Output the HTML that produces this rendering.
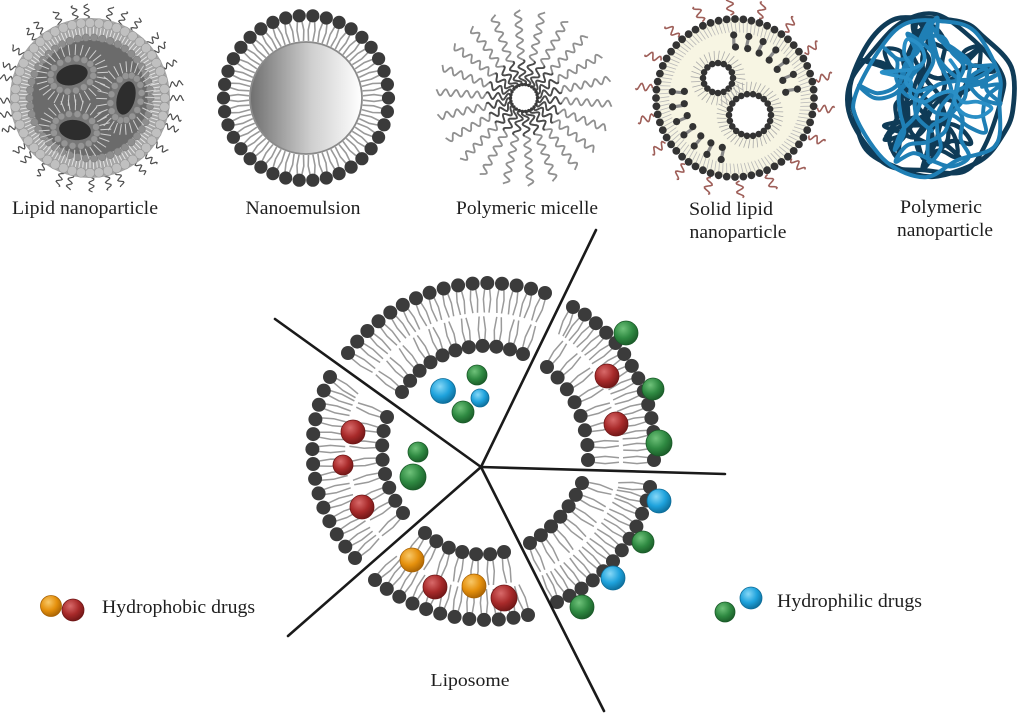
<!DOCTYPE html>
<html><head><meta charset="utf-8">
<style>
html,body{margin:0;padding:0;background:#fff;}
svg{display:block;}
text{font-family:"Liberation Serif",serif;fill:#1e1e1e;font-size:19px;}
</style></head>
<body>
<svg id="s" xmlns="http://www.w3.org/2000/svg" width="1024" height="715" viewBox="0 0 1024 715">
<defs>
<linearGradient id="neg" x1="0" y1="0" x2="1" y2="0">
<stop offset="0" stop-color="#6f6f6f"/><stop offset="0.55" stop-color="#cfcfcf"/><stop offset="1" stop-color="#ffffff"/>
</linearGradient>
<radialGradient id="gG" cx="0.38" cy="0.32" r="0.72"><stop offset="0" stop-color="#6fc27a"/><stop offset="0.55" stop-color="#2f8a42"/><stop offset="1" stop-color="#1a5a28"/></radialGradient>
<radialGradient id="gR" cx="0.38" cy="0.32" r="0.72"><stop offset="0" stop-color="#d86a6a"/><stop offset="0.55" stop-color="#a82a2a"/><stop offset="1" stop-color="#6e1616"/></radialGradient>
<radialGradient id="gB" cx="0.38" cy="0.32" r="0.72"><stop offset="0" stop-color="#86d8f7"/><stop offset="0.55" stop-color="#1ea2dc"/><stop offset="1" stop-color="#0d6c98"/></radialGradient>
<radialGradient id="gO" cx="0.38" cy="0.32" r="0.72"><stop offset="0" stop-color="#f8c868"/><stop offset="0.55" stop-color="#e5900c"/><stop offset="1" stop-color="#a76204"/></radialGradient>
</defs>
<g id="top"></g>
<g id="lipo"></g>
<g id="lines"></g>
<g id="balls"></g>
<text x="85" y="214" text-anchor="middle" textLength="146" lengthAdjust="spacingAndGlyphs">Lipid nanoparticle</text>
<text x="303" y="214" text-anchor="middle" textLength="115" lengthAdjust="spacingAndGlyphs">Nanoemulsion</text>
<text x="527" y="214" text-anchor="middle" textLength="142" lengthAdjust="spacingAndGlyphs">Polymeric micelle</text>
<text x="731" y="215" text-anchor="middle" textLength="84" lengthAdjust="spacingAndGlyphs">Solid lipid</text>
<text x="738" y="238" text-anchor="middle" textLength="97" lengthAdjust="spacingAndGlyphs">nanoparticle</text>
<text x="941" y="213" text-anchor="middle" textLength="82" lengthAdjust="spacingAndGlyphs">Polymeric</text>
<text x="945" y="236" text-anchor="middle" textLength="96" lengthAdjust="spacingAndGlyphs">nanoparticle</text>
<text x="470" y="686" text-anchor="middle" textLength="79" lengthAdjust="spacingAndGlyphs" style="font-size:18px">Liposome</text>
<text x="102" y="613" textLength="153" lengthAdjust="spacingAndGlyphs">Hydrophobic drugs</text>
<text x="777" y="607" textLength="145" lengthAdjust="spacingAndGlyphs">Hydrophilic drugs</text>
</svg>
<script>
(function(){
var NS='http://www.w3.org/2000/svg';
function el(p,tag,a){var e=document.createElementNS(NS,tag);for(var k in a)e.setAttribute(k,a[k]);p.appendChild(e);return e;}
function G(id){return document.getElementById(id);}
var T=G('top'),L=G('lipo'),LN=G('lines'),B=G('balls');
var PI2=Math.PI*2;
function f(x){return x.toFixed(1);}
function wave(cx,cy,ang,r1,r2,A,P,ph){var ux=Math.cos(ang),uy=Math.sin(ang),vx=-uy,vy=ux,d='';for(var t=r1;t<=r2+0.01;t+=1){var o=A*Math.sin(PI2*(t-r1)/P+(ph||0));var x=cx+t*ux+o*vx,y=cy+t*uy+o*vy;d+=(d?'L':'M')+f(x)+','+f(y);}return d;}
function line(p,x1,y1,x2,y2,c,w){return el(p,'line',{x1:f(x1),y1:f(y1),x2:f(x2),y2:f(y2),stroke:c,'stroke-width':w,'stroke-linecap':'round'});}
function circ(p,x,y,r,fill,a){var o={cx:f(x),cy:f(y),r:r,fill:fill};if(a)for(var k in a)o[k]=a[k];return el(p,'circle',o);}

/* ---------- Lipid nanoparticle ---------- */
var lx=90,ly=98;
for(var i=0;i<32;i++){var a=i/32*PI2+0.04*Math.sin(i*2.3);el(T,'path',{d:wave(lx,ly,a,78,94,2.6,7,i),fill:'none',stroke:'#4d4d4d','stroke-width':1.2});}
circ(T,lx,ly,80,'#a6a6a6');
for(i=0;i<120;i++){a=i/120*PI2;line(T,lx+62*Math.cos(a),ly+62*Math.sin(a),lx+71*Math.cos(a),ly+71*Math.sin(a),'#e4e4e4',1);}
circ(T,lx,ly,58,'#6b6b6b');
for(i=0;i<46;i++){a=i/46*PI2;circ(T,lx+60.5*Math.cos(a),ly+60.5*Math.sin(a),3.7,'#8e8e8e',{stroke:'#777','stroke-width':0.5});}
for(i=0;i<52;i++){a=i/52*PI2;circ(T,lx+75*Math.cos(a),ly+75*Math.sin(a),4.8,'#c0c0c0',{stroke:'#959595','stroke-width':0.6});}
function mic(cx,cy,rx,ry,rot){var c=Math.cos(rot),s=Math.sin(rot);function P(t,ax,ay){var x=ax*Math.cos(t),y=ay*Math.sin(t);return [cx+x*c-y*s,cy+x*s+y*c];}
 for(var k=0;k<30;k++){var t=k/30*PI2;var p1=P(t,rx+10,ry+10),p2=P(t,rx+20,ry+20);line(T,p1[0],p1[1],p2[0],p2[1],'#cfcfcf',1);}
 el(T,'ellipse',{cx:cx,cy:cy,rx:rx+7,ry:ry+7,fill:'#777',transform:'rotate('+(rot*180/Math.PI)+' '+cx+' '+cy+')'});
 for(k=0;k<16;k++){t=k/16*PI2;var p=P(t,rx+6,ry+6);circ(T,p[0],p[1],3.4,'#959595',{stroke:'#7a7a7a','stroke-width':0.5});}
 el(T,'ellipse',{cx:cx,cy:cy,rx:rx,ry:ry,fill:'#2d2d2d',transform:'rotate('+(rot*180/Math.PI)+' '+cx+' '+cy+')'});
}
mic(72,75,16,10,-0.25);mic(126,98,9,17,0.25);mic(75,130,16,10,0.15);

/* ---------- Nanoemulsion ---------- */
var nx=306,ny=98;
for(i=0;i<38;i++){a=i/38*PI2;var ca=Math.cos(a),sa=Math.sin(a),px=-sa,py=ca;
 for(var j=-1;j<=1;j+=2){var o=j*2.2;var k1=(j>0?1.2:-1.2);
  el(T,'polyline',{points:f(nx+77*ca+o*px)+','+f(ny+77*sa+o*py)+' '+f(nx+68*ca+(o+k1)*px)+','+f(ny+68*sa+(o+k1)*py)+' '+f(nx+57*ca+o*px)+','+f(ny+57*sa+o*py),fill:'none',stroke:'#999','stroke-width':1.6});}
}
circ(T,nx,ny,56,'url(#neg)',{stroke:'#8a8a8a','stroke-width':1.8});
for(i=0;i<38;i++){a=i/38*PI2;circ(T,nx+82.5*Math.cos(a),ny+82.5*Math.sin(a),6.6,'#3a3a3a');}

/* ---------- Polymeric micelle ---------- */
var mx=524,my=98;
for(i=0;i<22;i++){a=i/22*PI2+0.07;el(T,'path',{d:wave(mx,my,a,13,88,3.3,10.5,0),fill:'none',stroke:'#909090','stroke-width':1.8});}
for(i=0;i<22;i++){a=i/22*PI2+0.07;el(T,'path',{d:wave(mx,my,a,13,38,3.3,10.5,0),fill:'none',stroke:'#4a4a4a','stroke-width':1.8});}
circ(T,mx,my,12,'#fff');
for(i=0;i<26;i++){a=i/26*PI2;circ(T,mx+13.5*Math.cos(a),my+13.5*Math.sin(a),1.7,'#3a3a3a');}

/* ---------- Solid lipid nanoparticle ---------- */
var sx=735,sy=98;
for(i=0;i<18;i++){a=i/18*PI2+0.12;el(T,'path',{d:wave(sx,sy,a,83,100,3.4,9,0),fill:'none',stroke:'#9e5e58','stroke-width':1.6});}
circ(T,sx,sy,79,'#f7f5e3');
for(i=0;i<116;i++){a=i/116*PI2;line(T,sx+76*Math.cos(a),sy+76*Math.sin(a),sx+66*Math.cos(a+0.02),sy+66*Math.sin(a+0.02),'#b8b8b8',0.8);}
var holes=[[718,78,12,15,16],[750,115,17,21,22]];
for(i=0;i<26;i++){a=i/26*PI2+0.1;var ok=true;
 for(var h=0;h<2;h++){var hx=holes[h][0],hy=holes[h][1];for(var rr=50;rr<=64;rr+=7){var qx=sx+rr*Math.cos(a),qy=sy+rr*Math.sin(a);if(Math.hypot(qx-hx,qy-hy)<holes[h][3]+16)ok=false;}}
 if(!ok)continue;
 line(T,sx+62*Math.cos(a),sy+62*Math.sin(a),sx+53*Math.cos(a),sy+53*Math.sin(a),'#8a8a8a',3.2);
 circ(T,sx+63*Math.cos(a),sy+63*Math.sin(a),3.6,'#333');
 circ(T,sx+51*Math.cos(a+0.03),sy+51*Math.sin(a+0.03),3.6,'#333');
}
holes.forEach(function(hh){var hx=hh[0],hy=hh[1],r=hh[2],rg=hh[3],n=hh[4];
 for(var k=0;k<n*2;k++){var t=k/(n*2)*PI2;line(T,hx+(rg+3)*Math.cos(t),hy+(rg+3)*Math.sin(t),hx+(rg+12)*Math.cos(t+0.05),hy+(rg+12)*Math.sin(t+0.05),'#aaa',0.8);}
 circ(T,hx,hy,rg,'#fff');
 for(k=0;k<n;k++){t=k/n*PI2;circ(T,hx+rg*Math.cos(t),hy+rg*Math.sin(t),3.3,'#333');}
});
for(i=0;i<60;i++){a=i/60*PI2;circ(T,sx+79*Math.cos(a),sy+79*Math.sin(a),3.9,'#333');}

/* ---------- Polymeric nanoparticle ---------- */
function rng(s){return function(){s|=0;s=s+0x6D2B79F5|0;var t=Math.imul(s^s>>>15,1|s);t=t+Math.imul(t^t>>>7,61|t)^t;return((t^t>>>14)>>>0)/4294967296;};}
var R=rng(5);var qx0=930,qy0=95;
function cr(pts,closed){var n=pts.length,d='M'+f(pts[0][0])+','+f(pts[0][1]);
 var lim=closed?n:n-1;
 for(var k=0;k<lim;k++){var p0,p1=pts[k],p2,p3;
  if(closed){p0=pts[(k-1+n)%n];p2=pts[(k+1)%n];p3=pts[(k+2)%n];}
  else{p0=pts[Math.max(k-1,0)];p2=pts[k+1];p3=pts[Math.min(k+2,n-1)];}
  d+='C'+f(p1[0]+(p2[0]-p0[0])/6)+','+f(p1[1]+(p2[1]-p0[1])/6)+' '+f(p2[0]-(p3[0]-p1[0])/6)+','+f(p2[1]-(p3[1]-p1[1])/6)+' '+f(p2[0])+','+f(p2[1]);}
 return closed?d+'Z':d;}
var DK='#0f3b57',BL='#1f7fb5';
function bigLoop(n,rmin,rmax,col,w){var pts=[];for(var k=0;k<n;k++){var a=k/n*PI2+R()*0.25;var r=rmin+R()*(rmax-rmin);pts.push([qx0+r*Math.cos(a),qy0+r*Math.sin(a)]);}el(T,'path',{d:cr(pts,true),fill:'none',stroke:col,'stroke-width':w});}
function walk(n,col,w,step,maxr,turn){var x=qx0+(R()-0.5)*60,y=qy0+(R()-0.5)*60,ang=R()*PI2,pts=[[x,y]];
 for(var k=0;k<n;k++){ang+=(R()-0.5)*(turn||2.0);var nx2=x+step*Math.cos(ang),ny2=y+step*Math.sin(ang);
  if(Math.hypot(nx2-qx0,ny2-qy0)>maxr){ang=Math.atan2(qy0-y,qx0-x)+(R()-0.5)*1.8;nx2=x+step*Math.cos(ang);ny2=y+step*Math.sin(ang);}
  x=nx2;y=ny2;pts.push([x,y]);}
 el(T,'path',{d:cr(pts,false),fill:'none',stroke:col,'stroke-width':w,'stroke-linecap':'round'});}
bigLoop(14,78,86,DK,4.8);
bigLoop(12,70,84,DK,4.4);
walk(60,DK,4.4,20,78,1.8);
walk(45,DK,4.2,18,76,2.2);
walk(30,DK,4.2,16,70,2.4);
bigLoop(12,68,83,BL,4);
walk(60,BL,4,20,78,1.8);
walk(40,BL,3.9,18,74,2.2);
walk(25,'#2a8fc6',3.8,15,66,2.6);

/* ---------- Liposome ---------- */
function circ3(a,b,c){var ax=a[0],ay=a[1],bx=b[0],by=b[1],cx=c[0],cy=c[1];
 var d=2*(ax*(by-cy)+bx*(cy-ay)+cx*(ay-by));
 var ux=((ax*ax+ay*ay)*(by-cy)+(bx*bx+by*by)*(cy-ay)+(cx*cx+cy*cy)*(ay-by))/d;
 var uy=((ax*ax+ay*ay)*(cx-bx)+(bx*bx+by*by)*(ax-cx)+(cx*cx+cy*cy)*(bx-ax))/d;
 return [ux,uy,Math.hypot(ax-ux,ay-uy)];}
function norm(x){return ((x%PI2)+PI2)%PI2;}
function arcPts(P,spacing){var c=circ3(P[0],P[1],P[2]),ux=c[0],uy=c[1],r=c[2];
 var a1=Math.atan2(P[0][1]-uy,P[0][0]-ux),a2=Math.atan2(P[1][1]-uy,P[1][0]-ux),a3=Math.atan2(P[2][1]-uy,P[2][0]-ux);
 var d13=norm(a3-a1),d12=norm(a2-a1);var sw=d12<d13?d13:d13-PI2;
 var n=Math.max(1,Math.round(Math.abs(sw)*r/spacing));var pts=[];
 for(var k=0;k<=n;k++){var a=a1+sw*k/n;pts.push([ux+r*Math.cos(a),uy+r*Math.sin(a)]);}
 return pts;}
var segs=[
 {o:[[348,353],[487,283],[545,293]],i:[[402,392],[470,347],[523,354]]},
 {o:[[573,307],[633,368],[654,460]],i:[[547,367],[583,423],[588,460]]},
 {o:[[650,487],[622,550],[557,602]],i:[[582,483],[560,517],[530,543]]},
 {o:[[375,580],[455,617],[528,615]],i:[[425,533],[462,552],[504,552]]},
 {o:[[330,377],[313,463],[355,558]],i:[[387,417],[383,463],[403,513]]}
];
segs.forEach(function(sg){
 var O=arcPts(sg.o,14.5),I=arcPts(sg.i,14.5);var Of=arcPts(sg.o,2),If=arcPts(sg.i,2);
 function tails(rowA,fineB){rowA.forEach(function(p){var best=null,bd=1e9;fineB.forEach(function(q){var d=Math.hypot(q[0]-p[0],q[1]-p[1]);if(d<bd){bd=d;best=q;}});
  var dx=(best[0]-p[0])/bd,dy=(best[1]-p[1])/bd,nx2=-dy,ny2=dx;var Lt=bd*0.47;
  for(var j=-1;j<=1;j+=2){var o=j*2.3,kk=j*1.3;
   el(L,'polyline',{points:f(p[0]+dx*4+nx2*o)+','+f(p[1]+dy*4+ny2*o)+' '+f(p[0]+dx*Lt*0.55+nx2*(o+kk))+','+f(p[1]+dy*Lt*0.55+ny2*(o+kk))+' '+f(p[0]+dx*Lt+nx2*o)+','+f(p[1]+dy*Lt+ny2*o),fill:'none',stroke:'#9a9a9a','stroke-width':1.5,'stroke-linejoin':'round'});}
 });}
 tails(O,If);tails(I,Of);
 O.forEach(function(p){circ(L,p[0],p[1],7,'#3b3b3b');});
 I.forEach(function(p){circ(L,p[0],p[1],7,'#3b3b3b');});
});
var C=[481,467];
[[275,319],[596,230],[725,474],[604,711],[288,636]].forEach(function(e){line(LN,C[0],C[1],e[0],e[1],'#1a1a1a',2.6);});
var cols={g:['#gG','#1a5a28'],r:['#gR','#6e1616'],b:['#gB','#0d6c98'],o:['#gO','#a76204']};
function ball(x,y,r,c){circ(B,x,y,r,'url('+cols[c][0]+')',{stroke:cols[c][1],'stroke-width':0.8});}
[[443,391,12.5,'b'],[477,375,10,'g'],[480,398,9,'b'],[463,412,11,'g'],
 [626,333,12,'g'],[607,376,12,'r'],[653,389,11,'g'],[616,424,12,'r'],[659,443,13,'g'],
 [353,432,12,'r'],[343,465,10,'r'],[362,507,12,'r'],[418,452,10,'g'],[413,477,13,'g'],
 [659,501,12,'b'],[643,542,11,'g'],[613,578,12,'b'],[582,607,12,'g'],
 [412,560,12,'o'],[435,587,12,'r'],[474,586,12,'o'],[504,598,13,'r'],
 [51,606,10.5,'o'],[73,610,11,'r'],[725,612,10,'g'],[751,598,11,'b']
].forEach(function(b){ball(b[0],b[1],b[2],b[3]);});
})();
</script>
</body></html>
